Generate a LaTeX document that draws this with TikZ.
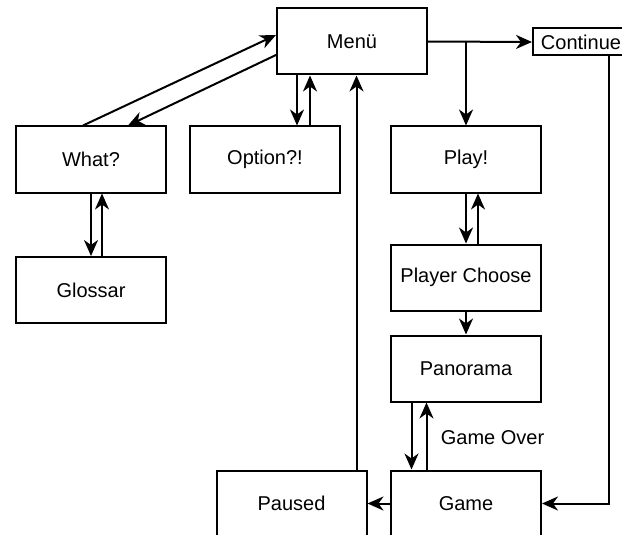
\documentclass[tikz,border=0pt]{standalone}
\usepackage{fontspec}
\setmainfont{Liberation Sans}
\usepackage{tikz}
\usetikzlibrary{calc,arrows.meta}

\begin{document}
\begin{tikzpicture}[x=1pt, y=-1pt,
		font=\fontsize{20}{24}\selectfont,
		box/.style={draw, line width=2pt, minimum width=150pt, minimum height=66pt, inner sep=0pt},
		arr/.style={line width=2pt, -{Stealth[length=16pt, width=14pt, inset=5pt]}}]
			\useasboundingbox (0, 0) rectangle (622, 535);
			\clip (0, 0) rectangle (622, 535);
			\node[box] (menu) at (352, 41.5) {Menü};
			\node[box, minimum width=96pt, minimum height=27pt] (cont) at (581, 42) {Continue};
			\node[box] (what) at (91, 159.5) {What?};
			\node[box] (option) at (265, 159.5) {Option?!};
			\node[box] (play) at (466, 159.5) {Play!};
			\node[box] (glossar) at (91, 290) {Glossar};
			\node[box] (player) at (466, 277.5) {Player Choose};
			\node[box] (pano) at (466, 368.5) {Panorama};
			\node[box] (game) at (466, 503.5) {Game};
			\node[box] (paused) at (291.5, 503.5) {Paused};
			\draw[arr] (menu.east) -- (cont.west);
			\draw[arr] (menu.east -| play.north) -- (play.north);
			\draw[arr] ([xshift=-55]menu.south) -- ([xshift=-55]menu.south |- option.north);
			\draw[arr] ([xshift=-42]menu.south |- option.north) -- ([xshift=-42]menu.south);
			\draw[arr] ([xshift=65]paused.north) -- ([xshift=65]paused.north |- menu.south);
			\draw[arr] ([xshift=-8]what.north) -- ([yshift=6.5]menu.west);
			\draw[arr] ([yshift=-13.5]menu.west) -- ([xshift=37]what.north);
			\draw[arr] (what.south) -- (glossar.north);
			\draw[arr] ([xshift=11]glossar.north) -- ([xshift=11]what.south);
			\draw[arr] (play.south) -- (player.north);
			\draw[arr] ([xshift=12]player.north) -- ([xshift=12]play.south);
			\draw[arr] (player.south) -- (pano.north);
			\draw[arr] ([xshift=-54.5]pano.south) -- ([xshift=-54.5]pano.south |- game.north);
			\draw[arr] ([xshift=-39.5]game.north) -- node[right, xshift=10pt, yshift=-2pt] {Game Over} ([xshift=-39.5]game.north |- pano.south);
			\draw[arr] (game.west) -- (paused.east);
			\draw[arr] ([xshift=28]cont.south) |- (game.east);
		\end{tikzpicture}
\end{document}
